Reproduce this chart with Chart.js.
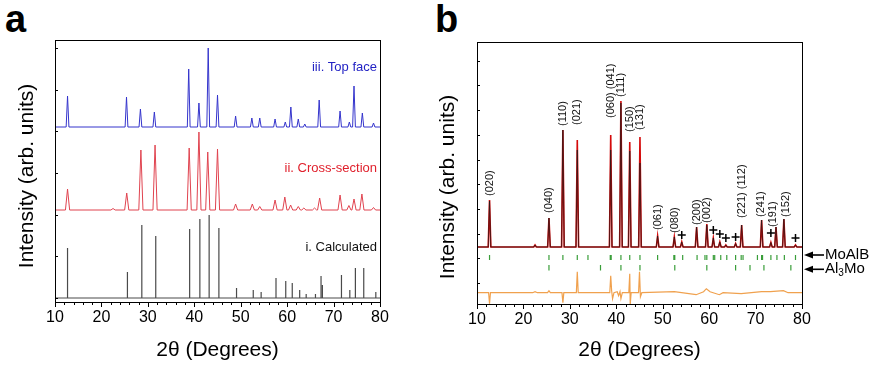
<!DOCTYPE html>
<html>
<head>
<meta charset="utf-8">
<script src="https://cdn.jsdelivr.net/npm/chart.js@4.4.0/dist/chart.umd.min.js"></script>
<style>
  body { margin: 0; background: #fff; width: 873px; height: 371px; overflow: hidden; position: relative; font-family: "Liberation Sans", Arial, sans-serif; }
  .panel { position: absolute; top: 0; }
  .tag { position: absolute; top: 0; font-weight: bold; font-size: 38px; line-height: 1; color: #000; }
</style>
</head>
<body>
<div class="tag" style="left:5px">a</div>
<div class="tag" style="left:435px">b</div>
<div class="panel" style="left:0"><canvas id="chart-a" width="420" height="371"></canvas></div>
<div class="panel" style="left:420px"><canvas id="chart-b" width="453" height="371"></canvas></div>
<script>
// ---- panel a : three patterns (peak position, height above own baseline)
const calcPos = [12.7, 25.6, 28.7, 31.7, 39.0, 41.2, 43.2, 45.3, 49.1, 52.7, 54.4, 57.6, 59.7, 61.1, 62.7, 64.1, 66.1, 67.3, 67.6, 71.7, 73.5, 74.7, 76.5, 79.1];
const calcInt = [50, 26, 73, 62, 69, 79, 83, 70, 10, 8, 6, 20, 17, 15, 8, 4, 4, 22, 13, 23, 8, 30, 30, 6];

const crossPos = [12.7, 22.5, 25.45, 28.5, 31.55, 38.9, 41.0, 42.9, 45.0, 48.9, 52.5, 54.1, 57.4, 59.5, 60.75, 62.4, 63.6, 65.9, 67.0, 71.4, 73.3, 74.4, 76.1, 78.6];
const crossInt = [21, 1.5, 17, 60, 65, 62, 78, 58, 61, 6, 6, 3.5, 10, 13, 5, 3.5, 2, 2, 12, 15, 4.5, 11, 16, 2.5];

const topPos = [12.7, 25.4, 28.4, 31.4, 38.8, 41.0, 43.0, 45.0, 48.9, 52.4, 54.1, 57.4, 59.6, 60.8, 62.4, 63.8, 66.9, 71.4, 73.4, 74.4, 76.2, 78.6];
const topInt = [31, 30, 18, 15, 58, 24, 79, 32, 11, 9, 9, 8, 5, 20, 8, 3, 27, 16, 5, 41, 14, 4];

const traceNames = ['i. Calculated', 'ii. Cross-section', 'iii. Top face'];
const traceColors = ['#4a4a4a', '#e0434f', '#3434cc'];
const nameColors = ['#111111', '#e0202c', '#2323c4'];
const baseA = [4, 92, 175];
const nameYA = [55, 134, 235];

// ---- panel b : Rietveld refinement
const obsPos = [12.7, 22.5, 25.5, 28.5, 31.6, 38.8, 41.0, 42.9, 45.1, 48.9, 52.5, 54.1, 57.3, 59.5, 60.9, 62.3, 63.6, 65.7, 67.0, 71.3, 73.3, 74.4, 76.1, 78.6];
const obsInt = [47, 2, 29, 117, 107, 112, 146, 105, 110, 11, 10, 5, 20, 23, 9, 5, 2, 3.5, 22, 27, 4.5, 20, 28, 2];
const fitInt = [46, 2, 29, 117, 97, 97, 144, 96, 84, 11, 10, 5, 20, 22, 9, 5, 2, 3.5, 22, 27, 4.5, 20, 28, 2];

const diffPos = [10, 12.5, 12.7, 12.9, 22.0, 22.5, 23.0, 25.2, 25.5, 25.8, 28.3, 28.5, 28.7, 31.4, 31.6, 31.8, 38.6, 38.8, 39.0, 39.2, 39.5, 40.2, 40.5, 40.8, 41.0, 41.3, 42.7, 42.9, 43.0, 43.2, 44.8, 45.0, 45.2, 45.5, 52.5, 57.2, 58.8, 59.4, 60.2, 62.2, 63.0, 66.9, 71.3, 73.2, 76.0, 77.0, 80];
const diffVal = [0, 0, -11, 0, 0, 1, 0, 0, 2, 0, 0, -10, 0, 0, 21, 0, 0, 17, 2, -6, 0, 1, -3, 1, -6, 0, 0, 19, -12, 0, 0, 21, -4, 0, 1, -2, 1, 4, 1, -2, 0, -1, 1, 1, 2, 0, 0];

const moalbPos = [12.7, 25.5, 28.5, 31.6, 33.9, 38.7, 38.9, 41.0, 42.9, 45.1, 48.9, 52.4, 52.6, 54.3, 57.4, 59.1, 59.5, 60.9, 61.2, 62.5, 63.8, 65.7, 66.9, 67.3, 70.4, 71.3, 71.5, 73.3, 74.6, 76.2, 78.6];
const al3moPos = [25.5, 36.6, 41.0, 45.1, 52.6, 59.5, 65.7, 68.8, 71.8, 77.6];

const plusPos = [54.1, 60.9, 62.3, 63.6, 65.7, 73.3, 78.6];
const plusY = [69, 74, 70, 66, 67, 71, 66];

const hklText = ['(020)', '(040)', '(110)', '(021)', '(060) (041)', '(111)', '(150)', '(131)', '(061)', '(080)', '(200)', '(002)', '(221) (112)', '(241)', '(191)', '(152)'];
const hklPos = [12.7, 25.5, 28.5, 31.6, 38.8, 41.0, 42.9, 45.1, 48.9, 52.6, 57.3, 59.5, 67.0, 71.2, 73.8, 76.5];
const hklTop = [51, 34, 121, 122, 129, 150, 115, 117, 17, 14, 22, 24, 29, 30, 20, 30];

const obsBase = 57;
const diffBase = 11.3;
const FONT = '"Liberation Sans", Arial, sans-serif';

// peak list -> line points (baseline, apex, baseline)
function peakTrace(pos, hgt, base, hw) {
  const pts = [{ x: 10, y: base }];
  pos.forEach((p, i) => {
    pts.push({ x: p - hw, y: base }, { x: p, y: base + hgt[i] }, { x: p + hw, y: base });
  });
  pts.push({ x: 80, y: base });
  return pts;
}

function tickRow(pos, y0, y1) {
  const pts = [];
  pos.forEach(p => pts.push({ x: p, y: y0 }, { x: p, y: y1 }, { x: p, y: null }));
  return pts;
}

// frame, minor ticks, y title
function framePlugin(yStart, yStep, title, titleX, titleY) {
  return {
    id: 'frame',
    afterDraw(chart) {
      const { ctx, chartArea: a, scales: { x, y } } = chart;
      ctx.save();
      ctx.strokeStyle = '#000';
      ctx.lineWidth = 1;
      ctx.strokeRect(Math.round(a.left) + 0.5, Math.round(a.top) + 0.5, Math.round(a.width), Math.round(a.height));
      ctx.beginPath();
      for (let v = 10; v <= 80; v += 2) {
        const px = Math.round(x.getPixelForValue(v)) + 0.5;
        const len = v % 10 === 0 ? 5 : 3;
        ctx.moveTo(px, a.bottom);
        ctx.lineTo(px, a.bottom + len);
      }
      for (let v = yStart; v < y.max; v += yStep) {
        const py = Math.round(y.getPixelForValue(v)) + 0.5;
        ctx.moveTo(a.left, py);
        ctx.lineTo(a.left + 3, py);
      }
      ctx.stroke();
      ctx.translate(titleX, titleY);
      ctx.rotate(-Math.PI / 2);
      ctx.font = '21px ' + FONT;
      ctx.fillStyle = '#000';
      ctx.textAlign = 'center';
      ctx.textBaseline = 'middle';
      ctx.fillText(title, 0, 0);
      ctx.restore();
    }
  };
}

function scalesFor(yWidth, xHeight) {
  return {
    x: {
      type: 'linear', min: 10, max: 80,
      grid: { display: false, drawTicks: false },
      border: { display: false },
      ticks: { stepSize: 10, color: '#000', font: { size: 16, family: FONT }, padding: 6, maxRotation: 0, autoSkip: false },
      title: { display: true, text: '2θ (Degrees)', color: '#000', font: { size: 21, family: FONT }, padding: { top: 0, bottom: 8 } },
      afterFit(s) { s.height = xHeight; }
    },
    y: {
      type: 'linear', min: 0, max: 262,
      grid: { display: false, drawTicks: false },
      border: { display: false },
      ticks: { display: false },
      afterFit(s) { s.width = yWidth; }
    }
  };
}

const labelsA = {
  id: 'labelsA',
  afterDatasetsDraw(chart) {
    const { ctx, chartArea: a, scales: { y } } = chart;
    ctx.save();
    ctx.font = '13px ' + FONT;
    ctx.textAlign = 'right';
    ctx.textBaseline = 'middle';
    traceNames.forEach((n, i) => {
      ctx.fillStyle = nameColors[i];
      ctx.fillText(n, a.right - 3, y.getPixelForValue(nameYA[i]));
    });
    ctx.restore();
  }
};

new Chart(document.getElementById('chart-a'), {
  type: 'line',
  data: {
    datasets: [
      { data: peakTrace(topPos, topInt, baseA[2], 0.3), borderColor: traceColors[2], borderWidth: 1 },
      { data: peakTrace(crossPos, crossInt, baseA[1], 0.45), borderColor: traceColors[1], borderWidth: 1 },
      { data: peakTrace(calcPos, calcInt, baseA[0], 0), borderColor: traceColors[0], borderWidth: 1.2 }
    ]
  },
  options: {
    responsive: false, animation: false, events: [],
    elements: { point: { radius: 0 }, line: { tension: 0 } },
    layout: { padding: { left: 0, top: 40, right: 40, bottom: 0 } },
    plugins: { legend: { display: false }, tooltip: { enabled: false } },
    scales: scalesFor(55, 69)
  },
  plugins: [labelsA, framePlugin(4, 41.7, 'Intensity (arb. units)', 27, 176)]
});

const labelsB = {
  id: 'labelsB',
  afterDatasetsDraw(chart) {
    const { ctx, chartArea: a, scales: { x, y } } = chart;
    ctx.save();
    ctx.font = '11px ' + FONT;
    ctx.fillStyle = '#111';
    ctx.textAlign = 'left';
    ctx.textBaseline = 'middle';
    hklText.forEach((t, i) => {
      ctx.save();
      ctx.translate(x.getPixelForValue(hklPos[i]), y.getPixelForValue(obsBase + hklTop[i]));
      ctx.rotate(-Math.PI / 2);
      ctx.fillText(t, 0, 0);
      ctx.restore();
    });
    // phase arrows
    const rows = [['MoAlB', 49], ['Al|3|Mo', 34.7]];
    ctx.fillStyle = '#000';
    ctx.strokeStyle = '#000';
    ctx.lineWidth = 1.6;
    rows.forEach(([txt, v]) => {
      const py = y.getPixelForValue(v);
      const x0 = a.right + 2;
      ctx.beginPath();
      ctx.moveTo(x0 + 6, py);
      ctx.lineTo(x0 + 20, py);
      ctx.stroke();
      ctx.beginPath();
      ctx.moveTo(x0, py);
      ctx.lineTo(x0 + 9, py - 3.5);
      ctx.lineTo(x0 + 9, py + 3.5);
      ctx.closePath();
      ctx.fill();
      const parts = txt.split('|');
      let tx = x0 + 21;
      ctx.textAlign = 'left';
      parts.forEach((p, k) => {
        const sub = k === 1;
        ctx.font = (sub ? '10px ' : '15px ') + FONT;
        ctx.fillText(p, tx, py + (sub ? 4 : 0));
        tx += ctx.measureText(p).width;
      });
    });
    ctx.restore();
  }
};

new Chart(document.getElementById('chart-b'), {
  type: 'line',
  data: {
    datasets: [
      { data: peakTrace(obsPos, fitInt, obsBase, 0.28), borderColor: '#1a1a1a', borderWidth: 0.7, order: 0 },
      { data: peakTrace(obsPos, obsInt, obsBase, 0.28), borderColor: '#d40a0a', borderWidth: 1.6, order: 1 },
      { data: diffPos.map((p, i) => ({ x: p, y: diffBase + diffVal[i] })), borderColor: '#f0a14e', borderWidth: 1.2, order: 2 },
      { data: tickRow(moalbPos, 44, 49), borderColor: '#3a9e3a', borderWidth: 1.2, spanGaps: false, order: 3 },
      { data: tickRow(al3moPos, 33.5, 39), borderColor: '#3a9e3a', borderWidth: 1.2, spanGaps: false, order: 3 },
      { data: plusPos.map((p, i) => ({ x: p, y: plusY[i] })), showLine: false, pointStyle: 'cross', pointRadius: 4, pointBorderColor: '#000', pointBorderWidth: 1.5, order: 0 }
    ]
  },
  options: {
    responsive: false, animation: false, events: [],
    elements: { point: { radius: 0 }, line: { tension: 0 } },
    layout: { padding: { left: 0, top: 42, right: 71, bottom: 0 } },
    plugins: { legend: { display: false }, tooltip: { enabled: false } },
    scales: scalesFor(57, 67)
  },
  plugins: [labelsB, framePlugin(21, 24.7, 'Intensity (arb. units)', 28, 187)]
});
</script>
</body>
</html>
